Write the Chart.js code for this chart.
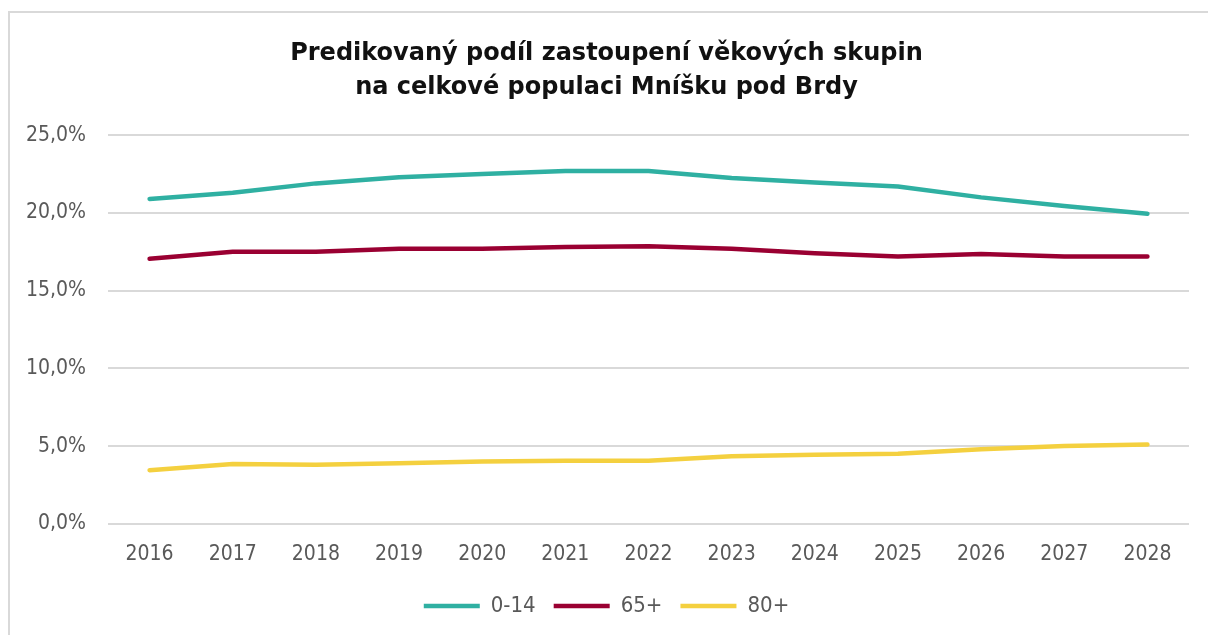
<!DOCTYPE html>
<html>
<head>
<meta charset="utf-8">
<script src="https://cdn.jsdelivr.net/npm/chart.js@4"></script>
<style>
  html, body { margin: 0; padding: 0; background: #fff; overflow: hidden; }
  #box {
    position: absolute; left: 8px; top: 11px; width: 1210px; height: 630px;
    border-left: 2px solid #d9d9d9; border-top: 2px solid #d9d9d9;
  }
  #wrap { position: absolute; left: 0; top: 0; width: 1198px; height: 622px; }
</style>
</head>
<body>
<div id="box"><div id="wrap"><canvas id="chartLine"></canvas></div></div>
<script>
const years = ["2016", "2017", "2018", "2019", "2020", "2021", "2022", "2023", "2024", "2025", "2026", "2027", "2028"];
const kids = [20.9, 21.3, 21.9, 22.3, 22.5, 22.7, 22.7, 22.25, 21.95, 21.7, 21.0, 20.45, 19.95];
const seniors = [17.05, 17.5, 17.5, 17.7, 17.7, 17.8, 17.85, 17.7, 17.4, 17.2, 17.35, 17.2, 17.2];
const elderly = [3.45, 3.85, 3.8, 3.9, 4.0, 4.05, 4.05, 4.35, 4.45, 4.5, 4.8, 5.0, 5.1];
const yTicks = [0, 5, 10, 15, 20, 25];

const font = "'DejaVu Sans Condensed', 'DejaVu Sans', sans-serif";

function line(label, values, color) {
    return {
        label: label,
        data: values,
        borderColor: color,
        backgroundColor: color,
        borderWidth: 4.5,
        borderCapStyle: "round",
        borderJoinStyle: "round",
        pointRadius: 0,
        pointHoverRadius: 0,
        pointStyle: "line",
        tension: 0,
        fill: false,
    };
}

const data = {
    labels: years,
    datasets: [
        line("0-14", kids, "#2fb0a2"),
        line("65+", seniors, "#9a0032"),
        line("80+", elderly, "#f4d03f"),
    ],
};

const configLineChart = {
    type: "line",
    data,
    options: {
        responsive: true,
        maintainAspectRatio: false,
        animation: false,
        layout: { padding: { left: 14, right: 19, top: 24, bottom: 8 } },
        plugins: {
            title: {
                display: true,
                text: ["Predikovaný podíl zastoupení věkových skupin", "na celkové populaci Mníšku pod Brdy"],
                color: "#111",
                font: { family: "'DejaVu Sans', sans-serif", size: 24, weight: "bold", lineHeight: 1.4 },
                padding: { top: 0, bottom: 31 },
            },
            legend: {
                position: "bottom",
                labels: {
                    usePointStyle: true,
                    pointStyleWidth: 56,
                    color: "#595959",
                    font: { family: font, size: 22 },
                    padding: 18,
                },
            },
            tooltip: { enabled: false },
        },
        scales: {
            x: {
                offset: true,
                grid: { display: false },
                border: { display: false },
                ticks: { color: "#595959", font: { family: font, size: 21 }, padding: 10 },
            },
            y: {
                min: 0,
                max: 25,
                afterBuildTicks: function(axis) {
                    axis.ticks = yTicks.map(function(v) { return { value: v }; });
                },
                afterFit: function(axis) { axis.width = 84; },
                grid: { color: "#d9d9d9", lineWidth: 2, drawTicks: false },
                border: { display: false },
                ticks: {
                    color: "#595959",
                    font: { family: font, size: 21 },
                    padding: 22,
                    callback: function(v) { return v.toFixed(1).replace(".", ",") + "%"; },
                },
            },
        },
    },
};

var chartLine = new Chart(
    document.getElementById("chartLine"),
    configLineChart
);
</script>
</body>
</html>
